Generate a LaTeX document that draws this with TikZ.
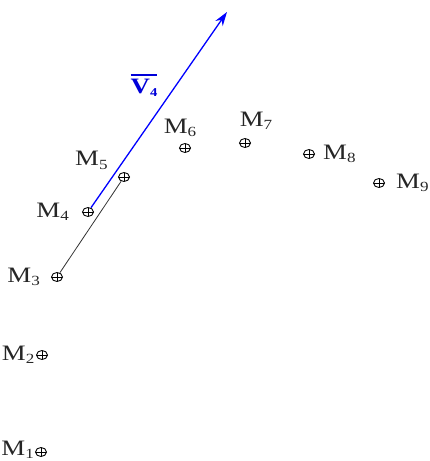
\documentclass[tikz,border=0pt]{standalone}
\usepackage{fontspec}
\setmainfont{Liberation Serif}
\newfontfamily\lblfont[FakeStretch=1.22]{Liberation Serif}
\usetikzlibrary{positioning, arrows.meta, shapes.geometric}

% label M with lowered index
\newcommand{\mlbl}[1]{M\raisebox{-3.5pt}{\fontsize{14}{14}\selectfont #1}}

\begin{document}
\begin{tikzpicture}[x=1pt, y=-1pt,
  meas/.style={ellipse, draw, line width=0.9pt,
    minimum width=11pt, minimum height=9pt, inner sep=0pt,
    path picture={
      \draw[line width=0.7pt]
        (path picture bounding box.north) -- (path picture bounding box.south)
        (path picture bounding box.west) -- (path picture bounding box.east);
    },
  },
  ptlbl/.style={font=\fontsize{22}{22}\lblfont, inner sep=0pt, text=black!85},
  veclbl/.style={font=\fontsize{22}{22}\lblfont\bfseries, inner sep=0pt, text=blue!85!black},
  vecarr/.style={-{Stealth[length=14pt, width=9pt]}, blue, line width=1.3pt},
  track/.style={black!80, line width=0.8pt},
]

\useasboundingbox (0,0) rectangle (429,461);

% ---- Measured points ----
\node[meas] (m1) at (41,452) {};
\node[meas] (m2) at (42,355) {};
\node[meas] (m3) at (57,277) {};
\node[meas] (m4) at (88,212) {};
\node[meas] (m5) at (124,177) {};
\node[meas] (m6) at (185,148) {};
\node[meas] (m7) at (245,143) {};
\node[meas] (m8) at (309,154) {};
\node[meas] (m9) at (379,183) {};

% ---- Point labels ----
\node[ptlbl, left=1pt of m1, yshift=2pt] {\mlbl{1}};
\node[ptlbl, left=1.5pt of m2] {\mlbl{2}};
\node[ptlbl, left=11pt of m3] {\mlbl{3}};
\node[ptlbl, left=13pt of m4] {\mlbl{4}};
\node[ptlbl, above left=4pt and 12pt of m5] {\mlbl{5}};
\node[ptlbl, above=6pt of m6, xshift=-5pt] {\mlbl{6}};
\node[ptlbl, above=8pt of m7, xshift=11pt] {\mlbl{7}};
\node[ptlbl, right=8pt of m8] {\mlbl{8}};
\node[ptlbl, right=11pt of m9] {\mlbl{9}};

% ---- Track M3 -> M5 ----
\draw[track] (m3) -- (m5);

% ---- Velocity vector at M4 ----
\coordinate (v4tip) at (227,12);
\draw[vecarr] (m4) -- (v4tip);
\node[veclbl] (v4) at (144,85)
  {\vbox{\hrule height 1.6pt \kern 3pt
    \hbox{V\raisebox{-3pt}{\fontsize{12}{12}\selectfont 4}}}};

\end{tikzpicture}
\end{document}
